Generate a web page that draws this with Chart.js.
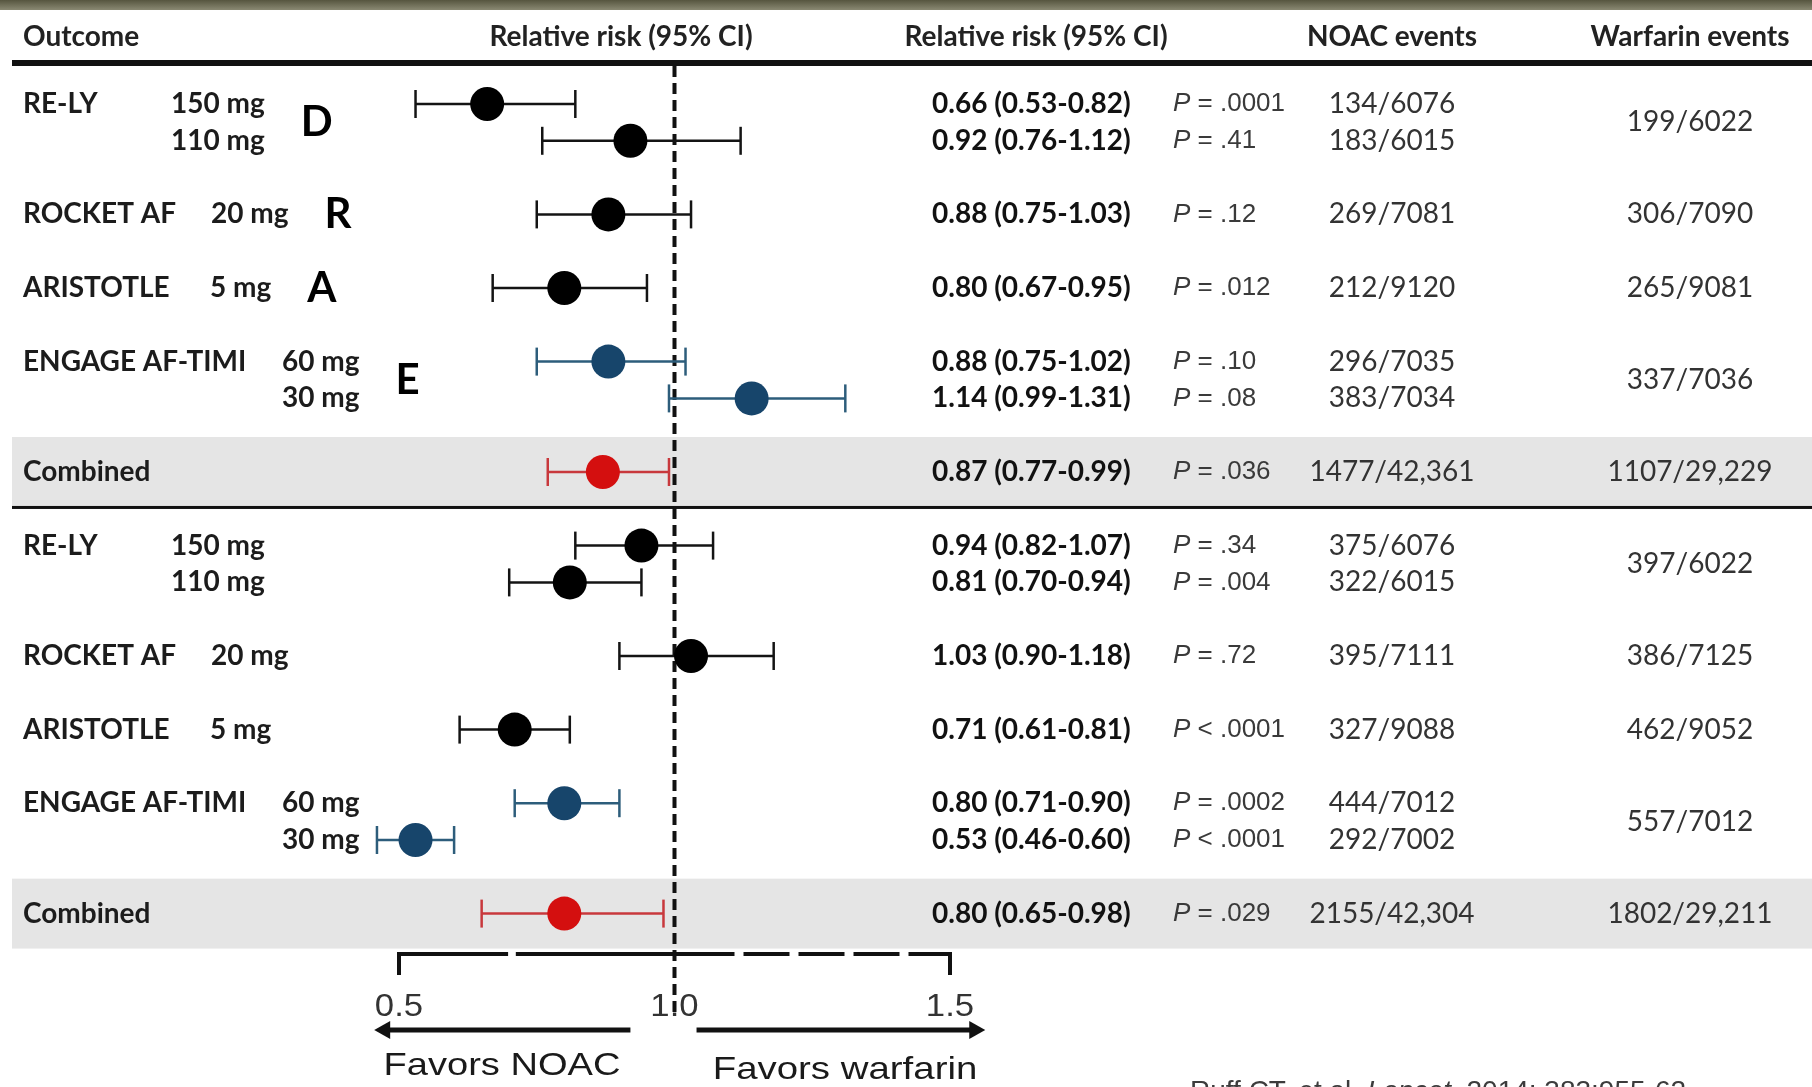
<!DOCTYPE html>
<html>
<head>
<meta charset="utf-8">
<title>NOAC vs warfarin - forest plot</title>
<script src="https://cdn.jsdelivr.net/npm/chart.js@4.4.1/dist/chart.umd.min.js"></script>
<style>
  html, body { margin: 0; padding: 0; background: #fff; }
  canvas { display: block; }
</style>
</head>
<body>
<canvas id="forestChart" width="1812" height="1087"></canvas>
<script>

// ------------------------ data ------------------------
const trialNames = ['RE-LY', 'RE-LY', 'ROCKET AF', 'ARISTOTLE', 'ENGAGE AF-TIMI', 'ENGAGE AF-TIMI', 'Combined',
                    'RE-LY', 'RE-LY', 'ROCKET AF', 'ARISTOTLE', 'ENGAGE AF-TIMI', 'ENGAGE AF-TIMI', 'Combined'];
const doseLabels = ['150 mg', '110 mg', '20 mg', '5 mg', '60 mg', '30 mg', '',
                    '150 mg', '110 mg', '20 mg', '5 mg', '60 mg', '30 mg', ''];
const drugLetters = ['D', '', 'R', 'A', 'E', '', '', '', '', '', '', '', '', ''];
const riskRatios = [0.66, 0.92, 0.88, 0.80, 0.88, 1.14, 0.87, 0.94, 0.81, 1.03, 0.71, 0.80, 0.53, 0.80];
const ciLower    = [0.53, 0.76, 0.75, 0.67, 0.75, 0.99, 0.77, 0.82, 0.70, 0.90, 0.61, 0.71, 0.46, 0.65];
const ciUpper    = [0.82, 1.12, 1.03, 0.95, 1.02, 1.31, 0.99, 1.07, 0.94, 1.18, 0.81, 0.90, 0.60, 0.98];
const pValues = ['P = .0001', 'P = .41', 'P = .12', 'P = .012', 'P = .10', 'P = .08', 'P = .036',
                 'P = .34', 'P = .004', 'P = .72', 'P < .0001', 'P = .0002', 'P < .0001', 'P = .029'];
const noacEvents = ['134/6076', '183/6015', '269/7081', '212/9120', '296/7035', '383/7034', '1477/42,361',
                    '375/6076', '322/6015', '395/7111', '327/9088', '444/7012', '292/7002', '2155/42,304'];
// null = shared with the row above (one warfarin arm for both doses)
const warfarinEvents = ['199/6022', null, '306/7090', '265/9081', '337/7036', null, '1107/29,229',
                        '397/6022', null, '386/7125', '462/9052', '557/7012', null, '1802/29,211'];
const axisTicks = [0.5, 1.0, 1.5];

// ------------------------ layout ------------------------
const CANVAS_W = 1812, CANVAS_H = 1087;
const FIRST_ROW_PX = 104, SLOT_PX = 36.8;      // row grid
const TICK_LO_PX = 399, TICK_HI_PX = 950;      // where 0.5 and 1.5 sit
const PX_PER_UNIT = (TICK_HI_PX - TICK_LO_PX) / (axisTicks[2] - axisTicks[0]);
const X_MIN = axisTicks[0] - TICK_LO_PX / PX_PER_UNIT;
const X_MAX = X_MIN + CANVAS_W / PX_PER_UNIT;
const Y_MIN = -FIRST_ROW_PX / SLOT_PX;
const Y_MAX = (CANVAS_H - FIRST_ROW_PX) / SLOT_PX;
const AXIS_Y = 954;

const COL_LABEL = 23, COL_RR = 932, COL_P = 1173, COL_NOAC = 1392, COL_WARF = 1690;
const doseX = {'RE-LY': 171, 'ROCKET AF': 211, 'ARISTOTLE': 210, 'ENGAGE AF-TIMI': 282};

const BOLD = '700 28px Lato';
const REGULAR = '400 28px Lato';
const P_FONT = '400 26px "Liberation Sans"';
const P_FONT_ITALIC = 'italic 400 26px "Liberation Sans"';

// rows of the same trial sit together, one empty half-row between trials
let rowSlots = [];
let slot = 0;
trialNames.forEach((name, i) => {
    if (i > 0) {
        slot += (name === trialNames[i - 1] ? 1 : 2);
    }
    rowSlots.push(slot);
});

function dotColor(name) {
    if (name === 'Combined') return '#d40f0f';
    if (name === 'ENGAGE AF-TIMI') return '#17456b';
    return '#000000';
}

function barColor(name) {
    if (name === 'Combined') return '#c8383c';
    if (name === 'ENGAGE AF-TIMI') return '#2d5d7b';
    return '#141414';
}

function drawText(ctx, text, x, y, font, color, align) {
    ctx.font = font;
    ctx.fillStyle = color;
    ctx.textAlign = align || 'left';
    ctx.textBaseline = 'middle';
    ctx.fillText(text, x, y);
}

function drawStretched(ctx, text, cx, y, font, color, sx) {
    ctx.save();
    ctx.translate(cx, y);
    ctx.scale(sx, 1);
    drawText(ctx, text, 0, 0, font, color, 'center');
    ctx.restore();
}

function drawPValue(ctx, text, x, y) {
    drawText(ctx, text.charAt(0), x, y, P_FONT_ITALIC, '#3a3a3a');
    let w = ctx.measureText(text.charAt(0)).width;
    drawText(ctx, text.slice(1), x + w, y, P_FONT, '#3a3a3a');
}

function drawArrow(ctx, fromX, toX, y) {
    let dir = Math.sign(toX - fromX);
    ctx.beginPath();
    ctx.moveTo(fromX, y);
    ctx.lineTo(toX - dir * 12, y);
    ctx.stroke();
    ctx.beginPath();
    ctx.moveTo(toX, y);
    ctx.lineTo(toX - dir * 16, y - 9);
    ctx.lineTo(toX - dir * 16, y + 9);
    ctx.closePath();
    ctx.fill();
}

// ------------------------ table + axis plugin ------------------------
const forestDecor = {
    id: 'forestDecor',
    beforeDatasetsDraw(chart) {
        const ctx = chart.ctx, xs = chart.scales.x, ys = chart.scales.y;
        ctx.save();

        // slide strip at the very top
        let grad = ctx.createLinearGradient(0, 0, 0, 11);
        grad.addColorStop(0, '#56553f');
        grad.addColorStop(1, '#8f8e78');
        ctx.fillStyle = grad;
        ctx.fillRect(0, 0, CANVAS_W, 10);

        // grey bands behind the combined rows
        trialNames.forEach((name, i) => {
            if (name !== 'Combined') return;
            let top = ys.getPixelForValue(rowSlots[i] - 0.95);
            let bottom = ys.getPixelForValue(rowSlots[i] + 0.95);
            ctx.fillStyle = '#e5e5e5';
            ctx.fillRect(12, top, CANVAS_W - 12, bottom - top);
        });

        // header rule and separator between the two outcomes
        ctx.fillStyle = '#111';
        ctx.fillRect(12, 60, CANVAS_W - 12, 6);
        let firstCombined = trialNames.indexOf('Combined');
        let sepY = ys.getPixelForValue(rowSlots[firstCombined] + 0.95);
        ctx.fillRect(12, sepY - 1, CANVAS_W - 12, 3);

        // reference line at RR = 1
        let x1 = xs.getPixelForValue(1);
        ctx.strokeStyle = '#111';
        ctx.lineWidth = 4;
        ctx.setLineDash([11, 6]);
        ctx.beginPath();
        ctx.moveTo(x1, 66);
        ctx.lineTo(x1, 1012);
        ctx.stroke();
        ctx.setLineDash([]);
        ctx.restore();
    },
    afterDatasetsDraw(chart) {
        const ctx = chart.ctx, xs = chart.scales.x, ys = chart.scales.y;
        ctx.save();

        // headers
        drawText(ctx, 'Outcome', COL_LABEL, 37, BOLD, '#222');
        drawText(ctx, 'Relative risk (95% CI)', 621, 37, BOLD, '#222', 'center');
        drawText(ctx, 'Relative risk (95% CI)', 1036, 37, BOLD, '#222', 'center');
        drawText(ctx, 'NOAC events', COL_NOAC, 37, BOLD, '#222', 'center');
        drawText(ctx, 'Warfarin events', COL_WARF, 37, BOLD, '#222', 'center');

        trialNames.forEach((name, i) => {
            let y = ys.getPixelForValue(rowSlots[i]);
            let firstOfTrial = (i === 0 || trialNames[i - 1] !== name);
            if (firstOfTrial) {
                drawText(ctx, name, COL_LABEL, y, BOLD, '#1c1c1c');
            }
            if (doseLabels[i]) {
                drawText(ctx, doseLabels[i], doseX[name], y, BOLD, '#1c1c1c');
            }
            if (drugLetters[i]) {
                let paired = (trialNames[i + 1] === name);
                let ly = paired ? ys.getPixelForValue(rowSlots[i] + 0.5) : y;
                ctx.font = BOLD;
                let lx = doseX[name] + ctx.measureText(doseLabels[i]).width + 36;
                drawText(ctx, drugLetters[i], lx, ly, '700 42px Lato', '#000');
            }
            let rrText = riskRatios[i].toFixed(2) + ' (' + ciLower[i].toFixed(2) + '-' + ciUpper[i].toFixed(2) + ')';
            drawText(ctx, rrText, COL_RR, y, BOLD, '#111');
            drawPValue(ctx, pValues[i], COL_P, y);
            drawText(ctx, noacEvents[i], COL_NOAC, y, REGULAR, '#333', 'center');
            if (warfarinEvents[i]) {
                let shared = (warfarinEvents[i + 1] === null);
                let wy = shared ? ys.getPixelForValue(rowSlots[i] + 0.5) : y;
                drawText(ctx, warfarinEvents[i], COL_WARF, wy, REGULAR, '#333', 'center');
            }
        });

        // bottom axis bracket
        let pLo = xs.getPixelForValue(axisTicks[0]);
        let pMid = xs.getPixelForValue(axisTicks[1]);
        let pHi = xs.getPixelForValue(axisTicks[2]);
        ctx.strokeStyle = '#111';
        ctx.fillStyle = '#111';
        ctx.lineWidth = 4;
        ctx.beginPath();
        ctx.moveTo(pLo, AXIS_Y + 21);
        ctx.lineTo(pLo, AXIS_Y);
        ctx.lineTo(xs.getPixelForValue(0.698), AXIS_Y);
        ctx.moveTo(xs.getPixelForValue(0.712), AXIS_Y);
        ctx.lineTo(pMid + 60, AXIS_Y);
        ctx.stroke();
        ctx.setLineDash([46, 9]);
        ctx.beginPath();
        ctx.moveTo(pMid + 69, AXIS_Y);
        ctx.lineTo(pHi, AXIS_Y);
        ctx.stroke();
        ctx.setLineDash([]);
        ctx.beginPath();
        ctx.moveTo(pHi - 2, AXIS_Y);
        ctx.lineTo(pHi, AXIS_Y);
        ctx.lineTo(pHi, AXIS_Y + 21);
        ctx.stroke();

        axisTicks.forEach(v => {
            drawStretched(ctx, v.toFixed(1), xs.getPixelForValue(v), AXIS_Y + 53, '400 31px "Liberation Sans"', '#333', 1.12);
        });

        // direction arrows
        ctx.lineWidth = 5;
        drawArrow(ctx, xs.getPixelForValue(0.92), xs.getPixelForValue(0.455), AXIS_Y + 76);
        drawArrow(ctx, xs.getPixelForValue(1.04), xs.getPixelForValue(1.564), AXIS_Y + 76);
        drawStretched(ctx, 'Favors NOAC', 502, AXIS_Y + 112, '400 32px "Liberation Sans"', '#1a1a1a', 1.19);
        drawStretched(ctx, 'Favors warfarin', 845, AXIS_Y + 116, '400 32px "Liberation Sans"', '#1a1a1a', 1.2);

        // source line, cut by the bottom edge
        ctx.textBaseline = 'alphabetic';
        ctx.textAlign = 'left';
        ctx.fillStyle = '#3c3c3c';
        let cx = 1190;
        const parts = [['Ruff CT, et al. ', '400 28px "Liberation Sans"'], ['Lancet', 'italic 400 28px "Liberation Sans"'], ['. 2014; 383:955-62', '400 28px "Liberation Sans"']];
        parts.forEach(p => {
            ctx.font = p[1];
            ctx.fillText(p[0], cx, 1100);
            cx += ctx.measureText(p[0]).width;
        });
        ctx.restore();
    }
};

// ------------------------ chart ------------------------
let datasets = [{
    type: 'scatter',
    label: 'Relative risk',
    order: 0,
    data: riskRatios.map((v, i) => ({x: v, y: rowSlots[i]})),
    pointRadius: 17,
    backgroundColor: trialNames.map(dotColor),
    borderWidth: 0,
}];
trialNames.forEach((name, i) => {
    datasets.push({
        type: 'line',
        label: '95% CI ' + name + ' ' + doseLabels[i],
        order: 1,
        data: [{x: ciLower[i], y: rowSlots[i]}, {x: ciUpper[i], y: rowSlots[i]}],
        borderColor: barColor(name),
        borderWidth: 2.5,
        fill: false,
        pointStyle: 'line',
        pointRotation: 90,
        pointRadius: 14,
        pointBorderWidth: 2.5,
        pointBorderColor: barColor(name),
    });
});

let ctx = document.getElementById('forestChart');
let forestChart = new Chart(ctx, {
    type: 'scatter',
    data: { datasets: datasets },
    options: {
        responsive: false,
        animation: false,
        events: [],
        layout: { padding: 0, autoPadding: false },
        scales: {
            x: { type: 'linear', display: false, min: X_MIN, max: X_MAX },
            y: { type: 'linear', display: false, reverse: true, min: Y_MIN, max: Y_MAX }
        },
        plugins: {
            legend: { display: false },
            tooltip: { enabled: false }
        }
    },
    plugins: [forestDecor]
});

</script>
</body>
</html>
